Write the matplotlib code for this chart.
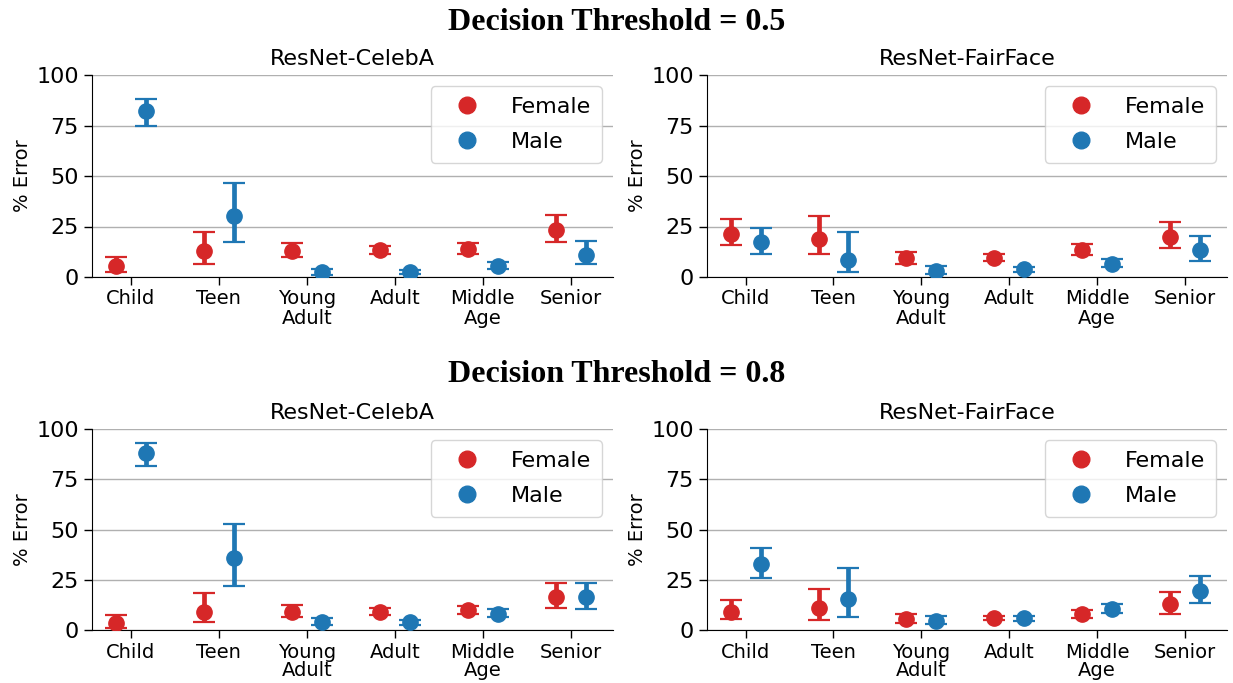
import numpy as np
import matplotlib
matplotlib.use("Agg")
import matplotlib.pyplot as plt

groups = ["Child", "Teen", "Young\nAdult", "Adult", "Middle\nAge", "Senior"]

# % error with lower / upper CI bounds, per model and threshold
celeba_05_f = [5.3, 12.7, 13.1, 13.4, 14.1, 23.3]
celeba_05_f_lo = [2.5, 6.3, 9.9, 11.6, 11.6, 17.2]
celeba_05_f_hi = [9.9, 22.4, 16.9, 15.2, 16.7, 30.6]
celeba_05_m = [82.3, 30.3, 2.5, 2.5, 5.5, 11.1]
celeba_05_m_lo = [74.8, 17.2, 1.2, 1.5, 3.8, 6.6]
celeba_05_m_hi = [88.1, 46.7, 4.1, 3.6, 7.3, 17.7]

fairface_05_f = [21.5, 18.9, 9.3, 9.4, 13.2, 20.0]
fairface_05_f_lo = [15.6, 11.3, 6.6, 7.9, 10.9, 14.2]
fairface_05_f_hi = [28.6, 30.0, 12.6, 11.6, 16.1, 27.0]
fairface_05_m = [17.2, 8.3, 3.1, 3.8, 6.6, 13.2]
fairface_05_m_lo = [11.6, 2.5, 1.3, 2.3, 5.0, 7.9]
fairface_05_m_hi = [24.5, 22.2, 5.3, 4.8, 8.9, 20.2]

celeba_08_f = [3.3, 9.1, 9.1, 9.1, 10.0, 16.6]
celeba_08_f_lo = [1.2, 3.8, 6.5, 7.5, 7.8, 11.1]
celeba_08_f_hi = [7.6, 18.4, 12.6, 10.8, 12.1, 23.3]
celeba_08_m = [88.2, 36.0, 3.8, 3.8, 8.1, 16.3]
celeba_08_m_lo = [81.4, 21.9, 2.3, 2.7, 6.5, 10.5]
celeba_08_m_hi = [92.9, 52.7, 6.1, 5.0, 10.6, 23.6]

fairface_08_f = [9.1, 10.8, 5.3, 6.1, 7.8, 12.8]
fairface_08_f_lo = [5.5, 5.0, 3.5, 5.0, 6.1, 7.8]
fairface_08_f_hi = [15.1, 20.4, 8.1, 7.1, 10.0, 19.1]
fairface_08_m = [32.6, 15.3, 4.7, 5.8, 10.5, 19.4]
fairface_08_m_lo = [25.9, 6.5, 3.0, 4.5, 8.3, 13.3]
fairface_08_m_hi = [41.0, 30.6, 7.1, 6.9, 12.8, 27.0]

RED = "#d62728"
BLUE = "#1f77b4"

panels = [
    ("ResNet-CelebA", celeba_05_f, celeba_05_f_lo, celeba_05_f_hi,
     celeba_05_m, celeba_05_m_lo, celeba_05_m_hi),
    ("ResNet-FairFace", fairface_05_f, fairface_05_f_lo, fairface_05_f_hi,
     fairface_05_m, fairface_05_m_lo, fairface_05_m_hi),
    ("ResNet-CelebA", celeba_08_f, celeba_08_f_lo, celeba_08_f_hi,
     celeba_08_m, celeba_08_m_lo, celeba_08_m_hi),
    ("ResNet-FairFace", fairface_08_f, fairface_08_f_lo, fairface_08_f_hi,
     fairface_08_m, fairface_08_m_lo, fairface_08_m_hi),
]

fig = plt.figure(figsize=(12.33, 6.83), dpi=100)
W, H = 1233, 683
boxes = [(92, 75, 613, 277), (707, 75, 1227, 277),
         (92, 429, 613, 630), (707, 429, 1227, 630)]

x = np.arange(len(groups))
dodge = 0.17


def draw_series(ax, xs, y, lo, hi, color, label):
    y = np.array(y)
    err = [y - np.array(lo), np.array(hi) - y]
    ax.errorbar(xs, y, yerr=err, fmt="o", color=color, ms=11,
                elinewidth=3.4, capsize=8, capthick=1.6, label=label, zorder=3)


for (title, f, flo, fhi, m, mlo, mhi), (l, t, r, b) in zip(panels, boxes):
    ax = fig.add_axes([l / W, 1 - b / H, (r - l) / W, (b - t) / H])
    draw_series(ax, x - dodge, f, flo, fhi, RED, "Female")
    draw_series(ax, x + dodge, m, mlo, mhi, BLUE, "Male")
    ax.set_ylim(0, 100)
    ax.set_xlim(-0.44, 5.48)
    ax.set_yticks([0, 25, 50, 75, 100])
    ax.set_xticks(x)
    ax.set_xticklabels(groups, fontsize=14, linespacing=1.0)
    ax.tick_params(axis="y", labelsize=16, length=6, width=1)
    ax.tick_params(axis="x", length=6, width=1, pad=3)
    ax.yaxis.grid(True, color="#b0b0b0", lw=1)
    ax.set_axisbelow(True)
    for s in ["top", "right"]:
        ax.spines[s].set_visible(False)
    ax.set_ylabel("% Error", fontsize=14, labelpad=3)
    ax.set_title(title, fontsize=16, pad=7)
    # legend shows markers only
    handles = [plt.Line2D([], [], ls="", marker="o", ms=12, color=c) for c in (RED, BLUE)]
    ax.legend(handles, ["Female", "Male"], loc="upper right", fontsize=16,
              frameon=True, borderaxespad=0.5, borderpad=0.5,
              labelspacing=0.65, handlelength=2.3)

fig.text(0.5, 1 - 22 / H, "Decision Threshold = 0.5", ha="center", va="center",
         fontsize=23, fontweight="bold", family="Liberation Serif")
fig.text(0.5, 1 - 375 / H, "Decision Threshold = 0.8", ha="center", va="center",
         fontsize=23, fontweight="bold", family="Liberation Serif")

fig.savefig("out.png", dpi=100)
